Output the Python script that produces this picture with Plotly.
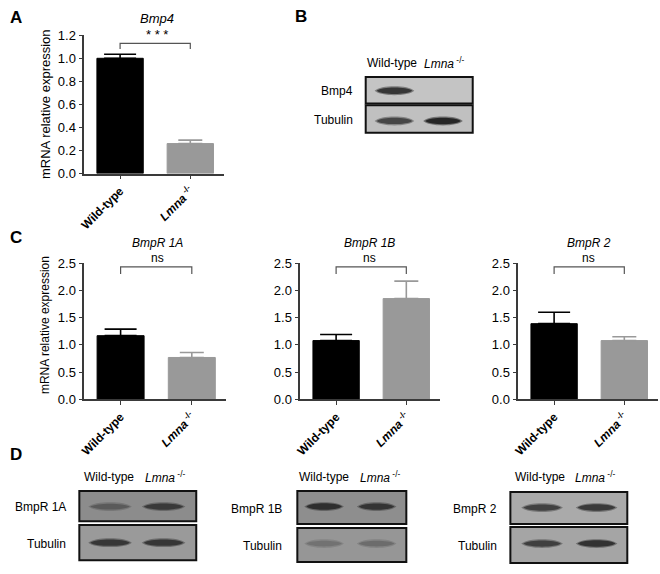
import plotly.graph_objects as go

W, H = 660, 574
FONT = "Liberation Sans, Arial, sans-serif"


def px(x):
    return x / W


def py(y):
    return 1 - y / H


# ---------------- data ----------------
groups = ["Wild-type", "Lmna -/-"]
tick_text = ["<b>Wild-type</b>", "<b><i>Lmna</i></b><sup><b> -/-</b></sup>"]

bmp4_mean = [1.00, 0.26]
bmp4_sem = [0.035, 0.03]

bmpr1a_mean = [1.17, 0.77]
bmpr1a_sem = [0.12, 0.09]

bmpr1b_mean = [1.08, 1.85]
bmpr1b_sem = [0.11, 0.32]

bmpr2_mean = [1.39, 1.08]
bmpr2_sem = [0.21, 0.07]

panel_titles = ["Bmp4", "BmpR 1A", "BmpR 1B", "BmpR 2"]
significance = ["* * *", "ns", "ns", "ns"]

# western blot band intensities (0 = no band, 1 = strongest)
blot_b_rows = ["Bmp4", "Tubulin"]
blot_b_bands = [[0.85, 0.0], [0.75, 0.95]]
blot_d1_rows = ["BmpR 1A", "Tubulin"]
blot_d1_bands = [[0.45, 0.75], [0.8, 0.8]]
blot_d2_rows = ["BmpR 1B", "Tubulin"]
blot_d2_bands = [[0.85, 0.8], [0.3, 0.35]]
blot_d3_rows = ["BmpR 2", "Tubulin"]
blot_d3_bands = [[0.75, 0.8], [0.75, 0.85]]

# ---------------- styles ----------------
bar_colors = ["#000000", "#999999"]
err_widths = [16, 12]
axis_color = "#3a3a3a"

fig = go.Figure()

panels = [
    # mean, sem, x-domain px, y-domain px (top,bottom), yrange, dtick, axis suffix
    (bmp4_mean, bmp4_sem, (79, 220), (29, 171), 1.2, 0.2, ""),
    (bmpr1a_mean, bmpr1a_sem, (79, 222), (263, 403), 2.5, 0.5, "2"),
    (bmpr1b_mean, bmpr1b_sem, (297, 438), (263, 403), 2.5, 0.5, "3"),
    (bmpr2_mean, bmpr2_sem, (517, 658), (263, 403), 2.5, 0.5, "4"),
]

cats = list(range(len(groups)))
layout_axes = {}
for mean, sem, xd, yd, ymax, dt, s in panels:
    for i in cats:
        fig.add_trace(go.Bar(
            x=[cats[i]], y=[mean[i]],
            xaxis="x" + s, yaxis="y" + s,
            width=0.66,
            marker=dict(color=bar_colors[i], line=dict(color=bar_colors[i], width=1)),
            error_y=dict(type="data", symmetric=False, array=[sem[i]], arrayminus=[0],
                         color=bar_colors[i], thickness=1.6, width=err_widths[i]),
            showlegend=False, hoverinfo="skip",
        ))
    layout_axes["xaxis" + s] = dict(
        domain=[px(xd[0]), px(xd[1])], anchor="y" + s,
        range=[-0.51, 1.48], tickmode="array", tickvals=cats, ticktext=tick_text,
        tickangle=-45, tickfont=dict(family=FONT, size=12, color="#000"),
        showline=True, linecolor=axis_color, linewidth=1.5,
        ticks="outside", ticklen=4, tickcolor=axis_color, tickwidth=1.2,
        showgrid=False, zeroline=False, fixedrange=True,
    )
    layout_axes["yaxis" + s] = dict(
        domain=[py(yd[1]), py(yd[0])], anchor="x" + s,
        range=[0, ymax], dtick=dt, tick0=0, tickformat=".1f",
        tickfont=dict(family=FONT, size=13, color="#000"),
        showline=True, linecolor=axis_color, linewidth=1.5,
        ticks="outside", ticklen=4, tickcolor=axis_color, tickwidth=1.2,
        showgrid=False, zeroline=False, fixedrange=True,
    )

shapes = []
annotations = []

# significance brackets (data coordinates)
bracket_levels = [(1.08, 1.13), (2.30, 2.43), (2.30, 2.43), (2.30, 2.43)]
for (mean, sem, xd, yd, ymax, dt, s), (lo, hi) in zip(panels, bracket_levels):
    shapes.append(dict(type="path", xref="x" + s, yref="y" + s,
                       path=f"M {cats[0]},{lo} L {cats[0]},{hi} L {cats[1]},{hi} L {cats[1]},{lo}",
                       line=dict(color="#555555", width=1.2)))

# titles and significance labels
title_pos = [(152, 12), (153, 242), (367, 242), (588, 242)]
sig_pos = [(152, 28), (153, 258), (367, 258), (588, 258)]
for t, (x, y) in zip(panel_titles, title_pos):
    annotations.append(dict(text=f"<i>{t}</i>", x=px(x), y=py(y), xref="paper", yref="paper",
                            showarrow=False, font=dict(family=FONT, size=13 if t == "Bmp4" else 12, color="#000"),
                            xanchor="center", yanchor="middle"))
for t, (x, y) in zip(significance, sig_pos):
    annotations.append(dict(text=t, x=px(x), y=py(y), xref="paper", yref="paper",
                            showarrow=False, font=dict(family=FONT, size=12 if t == "ns" else 13, color="#000"),
                            xanchor="center", yanchor="middle"))

# y-axis titles
for (x, y, size) in [(40, 100, 13), (40, 327, 12)]:
    annotations.append(dict(text="mRNA relative expression", x=px(x), y=py(y), xref="paper", yref="paper",
                            showarrow=False, textangle=-90, font=dict(family=FONT, size=size, color="#000"),
                            xanchor="center", yanchor="middle"))

# panel letters
for t, (x, y) in zip("ABCD", [(10, 11), (298, 10), (10, 237), (10, 460)]):
    annotations.append(dict(text=f"<b>{t}</b>", x=px(x), y=py(y), xref="paper", yref="paper",
                            showarrow=False, font=dict(family=FONT, size=17, color="#000"),
                            xanchor="center", yanchor="middle"))


# ---------------- western blots ----------------
def band_path(cx, cy, hw, hh):
    x0, x1 = px(cx - hw), px(cx + hw)
    xa, xb = px(cx - hw * 0.7), px(cx + hw * 0.7)
    yc = py(cy)
    d = hh * 1.35 / H
    return (f"M {x0},{yc} C {xa},{yc + d} {xb},{yc + d} {x1},{yc} "
            f"C {xb},{yc - d} {xa},{yc - d} {x0},{yc} Z")


def draw_blot(rows, bands, box_x, row_y, lanes, band_y, hw, label_right, col_y, col_x, bgs):
    for r, name in enumerate(rows):
        y0, y1 = row_y[r]
        bg = bgs[r]
        shapes.append(dict(type="rect", xref="paper", yref="paper",
                           x0=px(box_x[0]), x1=px(box_x[1]), y0=py(y1), y1=py(y0),
                           fillcolor=f"rgb({bg},{bg},{bg})", line=dict(color="#111", width=2)))
        for l, inten in enumerate(bands[r]):
            if inten <= 0:
                continue
            outer = int(bg - inten * (bg - 60) * 0.6)
            inner = int(bg - inten * (bg - 30))
            shapes.append(dict(type="path", xref="paper", yref="paper",
                               path=band_path(lanes[l], band_y[r], hw, 4.5),
                               fillcolor=f"rgb({outer},{outer},{outer})", line=dict(width=0)))
            shapes.append(dict(type="path", xref="paper", yref="paper",
                               path=band_path(lanes[l], band_y[r], hw - 2, 2.6 + inten * 0.8),
                               fillcolor=f"rgb({inner},{inner},{inner})", line=dict(width=0)))
        annotations.append(dict(text=name, x=px(label_right), y=py((y0 + y1) / 2 + 1), xref="paper", yref="paper",
                                showarrow=False, font=dict(family=FONT, size=12, color="#000"),
                                xanchor="right", yanchor="middle"))
    col_labels = ["Wild-type", "<i>Lmna</i><sup> -/-</sup>"]
    for cx, t in zip(col_x, col_labels):
        annotations.append(dict(text=t, x=px(cx), y=py(col_y), xref="paper", yref="paper",
                                showarrow=False, font=dict(family=FONT, size=12, color="#000"),
                                xanchor="center", yanchor="middle"))


draw_blot(blot_b_rows, blot_b_bands, (363, 471), [(72, 99), (101, 129)], (392, 441), (86, 117), 20,
          352, 58, (390, 442), (196, 192))
draw_blot(blot_d1_rows, blot_d1_bands, (74, 192), [(497, 528), (532, 568)], (105, 159), (513, 550), 22,
          63, 483, (104, 160), (140, 154))
draw_blot(blot_d2_rows, blot_d2_bands, (294, 404), [(497, 531), (535, 570)], (321, 374), (513, 551), 20,
          281, 483, (321, 377), (142, 150))
draw_blot(blot_d3_rows, blot_d3_bands, (509, 627), [(498, 531), (534, 571)], (541, 596), (514, 551), 21,
          498, 483, (539, 594), (170, 165))

fig.update_layout(
    width=W, height=H,
    margin=dict(l=0, r=0, t=0, b=0),
    paper_bgcolor="white", plot_bgcolor="white",
    barmode="overlay",
    shapes=shapes, annotations=annotations,
    font=dict(family=FONT, color="#000"),
    **layout_axes,
)

fig.write_html("out.html", config={"displayModeBar": False},
               post_script="document.body.style.margin='0px';")
